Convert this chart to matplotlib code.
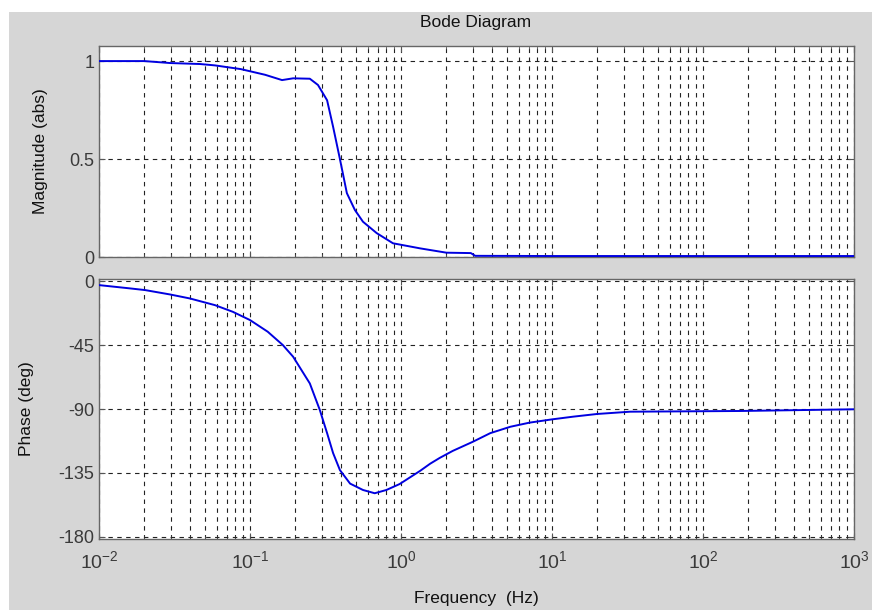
import matplotlib
matplotlib.use("Agg")
import matplotlib.pyplot as plt
import numpy as np
from matplotlib.ticker import LogLocator, NullFormatter, FixedLocator
from matplotlib.patches import Rectangle

plt.rcParams['font.family'] = ['Liberation Sans', 'DejaVu Sans']
plt.rcParams['mathtext.fontset'] = 'custom'
plt.rcParams['mathtext.rm'] = 'Liberation Sans'
plt.rcParams['mathtext.it'] = 'Liberation Sans'

# Data
mag_freq = [0.01, 0.02, 0.0296, 0.0467, 0.0586, 0.087, 0.126, 0.163, 0.193, 0.249, 0.282,
            0.324, 0.355, 0.394, 0.438, 0.495, 0.56, 0.69, 0.885, 1.34, 2.0, 2.9,
            3.1, 10.0, 100.0, 1000.0]
mag_vals = [1.0, 1.0, 0.99, 0.985, 0.978, 0.959, 0.930, 0.903, 0.912, 0.91, 0.878,
            0.80, 0.665, 0.5, 0.326, 0.24, 0.18, 0.122, 0.07, 0.044, 0.022, 0.02,
            0.006, 0.005, 0.005, 0.005]

ph_freq = [0.01, 0.016, 0.0202, 0.0296, 0.04, 0.0586, 0.077, 0.1, 0.131, 0.165,
           0.193, 0.249, 0.29, 0.324, 0.355, 0.394, 0.46, 0.56, 0.67, 0.80, 0.98,
           1.34, 1.56, 1.8, 2.2, 3.0, 3.9, 5.3, 7.1, 10.0, 13.8, 19.9, 32.9, 176.0, 1000.0]
ph_vals = [-2.8, -5.1, -6.3, -9.4, -12.2, -16.9, -21.6, -27.4, -35.6, -45.0,
           -53.2, -72.0, -90.7, -107.0, -121.0, -133.0, -142.5, -147.0, -149.3, -147.0, -142.8,
           -133.5, -128.5, -124.5, -119.5, -113.0, -107.0, -102.5, -99.6, -97.3, -95.4, -93.5,
           -91.9, -91.4, -90.2]

mag_ticks = [0, 0.5, 1]
ph_ticks = [-180, -135, -90, -45, 0]

W, H = 872, 610
fig = plt.figure(figsize=(W / 100, H / 100), dpi=100)
fig.patch.set_facecolor('#d6d6d6')
fig.patches.append(Rectangle((0, 1 - 12 / H), 1, 12 / H, transform=fig.transFigure,
                             facecolor='white', edgecolor='none', zorder=0))
fig.patches.append(Rectangle((0, 0), 9 / W, 1, transform=fig.transFigure,
                             facecolor='white', edgecolor='none', zorder=0))

def ax_rect(x0, y0, x1, y1):
    return [x0 / W, 1 - y1 / H, (x1 - x0) / W, (y1 - y0) / H]

ax1 = fig.add_axes(ax_rect(99, 46, 854, 257))
ax2 = fig.add_axes(ax_rect(99, 279, 854, 539))

line_color = '#0000e0'
ax1.plot(mag_freq, mag_vals, color=line_color, lw=1.4, zorder=3)
ax2.plot(ph_freq, ph_vals, color=line_color, lw=1.4, zorder=3)

tick_color = '#3a3a3a'
for ax in (ax1, ax2):
    ax.set_xscale('log')
    ax.set_xlim(1e-2, 1e3)
    ax.set_facecolor('white')
    ax.xaxis.set_major_locator(LogLocator(base=10, numticks=20))
    ax.xaxis.set_minor_locator(LogLocator(base=10, subs=np.arange(2, 10), numticks=50))
    ax.xaxis.set_minor_formatter(NullFormatter())
    ax.grid(True, which='major', axis='both', linestyle=(0, (4, 4)), color='#222222', lw=0.8)
    ax.grid(True, which='minor', axis='x', linestyle=(0, (4, 4)), color='#222222', lw=0.8)
    ax.tick_params(which='both', direction='in', colors='#555555', labelcolor=tick_color,
                   labelsize=13, top=True, right=True)
    ax.tick_params(which='major', length=4)
    ax.tick_params(which='minor', length=2)
    for s in ax.spines.values():
        s.set_color('#666666')
        s.set_linewidth(1.0)

ax1.set_ylim(0, 1.077)
ax1.yaxis.set_major_locator(FixedLocator(mag_ticks))
ax1.set_yticklabels(['0', '0.5', '1'])
ax1.tick_params(axis='x', labelbottom=False)

ax2.set_ylim(-181.5, 1.5)
ax2.yaxis.set_major_locator(FixedLocator(ph_ticks))
ax2.set_yticklabels([str(t) for t in ph_ticks])
ax2.tick_params(axis='x', pad=8, labelsize=14)

fig.text(476 / W, 1 - 23 / H, 'Bode Diagram', ha='center', va='center', fontsize=12.5, color='#111111')
fig.text(40 / W, 1 - 151 / H, 'Magnitude (abs)', ha='center', va='center', rotation=90,
         fontsize=12.5, color='#111111')
fig.text(27 / W, 1 - 409 / H, 'Phase (deg)', ha='center', va='center', rotation=90,
         fontsize=12.5, color='#111111')
fig.text(476 / W, 1 - 598 / H, 'Frequency  (Hz)', ha='center', va='center', fontsize=12.5, color='#111111')

fig.savefig('out.png', dpi=100, facecolor=fig.get_facecolor())
